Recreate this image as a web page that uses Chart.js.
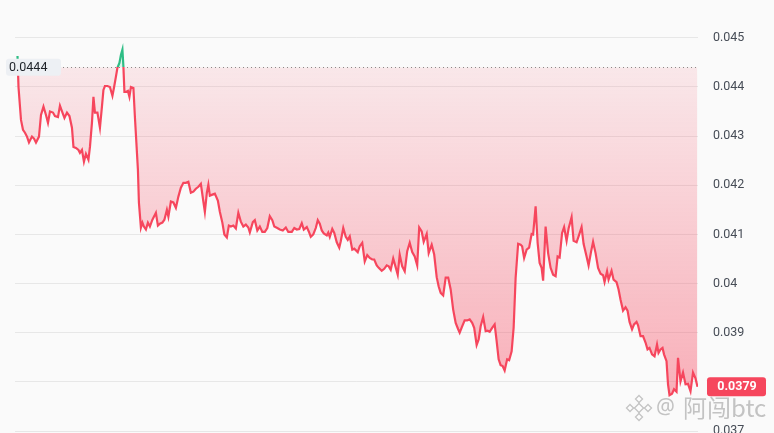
<!DOCTYPE html>
<html>
<head>
<meta charset="utf-8">
<script src="https://cdn.jsdelivr.net/npm/chart.js@4"></script>
<style>
  html, body { margin: 0; padding: 0; background: #fafafa; overflow: hidden; }
  #wrap { width: 774px; height: 433px; }
</style>
</head>
<body>
<div id="wrap"><canvas id="price-chart" width="774" height="433"></canvas></div>
<script>
// minutes since the start of the window, and the price at each sample
const minutes = [
  0, 2, 7, 11, 15, 19, 23, 29, 33, 37, 43, 47, 52, 57, 61, 65, 71, 75, 81, 85,
  90, 94, 99, 104, 109, 112, 117, 122, 125, 129, 133, 137, 142, 145, 149, 152, 155, 160, 165, 169,
  172, 175, 180, 185, 190, 193, 197, 200, 204, 207, 210, 212, 214, 217, 221, 224, 227, 232, 235,
  241, 243, 247, 250, 253, 257, 261, 265, 270, 277, 281, 285, 290, 294, 299, 302, 307, 312, 317, 322,
  327, 332, 337, 342, 347, 352, 357, 362, 367, 372, 375, 379, 382, 385, 390, 395, 401, 405, 410, 414,
  419, 423, 427, 432, 437, 442, 447, 452, 457, 462,
  465, 471, 475, 480, 485, 490, 495, 500, 505, 510, 514, 520, 525, 531, 537, 542, 549, 554, 559, 564,
  569, 573, 579, 583, 587, 592, 597, 601, 605, 609, 613, 619, 622, 625, 630, 634, 639, 644, 647, 652,
  657, 661, 665, 670, 674, 679,
  681, 685, 690, 695, 700, 705, 710, 714, 719, 723, 729, 734, 739, 743, 747, 752, 757, 761, 765, 770,
  775, 780, 785, 790, 795, 800, 804, 809, 813, 819, 823, 829, 834, 839, 843, 847, 852, 857, 862, 867,
  872, 877, 882, 885, 890, 895, 900, 905, 910, 914,
  919, 923, 927, 932, 937, 941, 945, 950, 955, 959, 963, 967, 971, 975, 980, 984, 989, 993, 997, 1002,
  1007, 1010, 1014, 1019, 1024, 1029, 1032, 1037, 1041, 1045, 1049, 1052, 1057, 1062, 1067, 1072, 1077, 1081, 1085, 1090,
  1094, 1099, 1103, 1109, 1113, 1119, 1123, 1129, 1133,
  1139, 1143, 1148, 1152, 1157, 1162, 1167, 1172, 1175, 1180, 1183, 1189, 1193, 1199, 1203, 1207, 1212, 1217, 1221, 1225,
  1230, 1234, 1239, 1242, 1247, 1252, 1257, 1261, 1265, 1270, 1275, 1280, 1283, 1287, 1291, 1294, 1299, 1302, 1305, 1310,
  1314, 1319, 1322, 1327, 1332, 1337, 1342, 1347, 1352, 1357, 1361
];
const prices = [
  0.04463, 0.04400, 0.04333, 0.04313, 0.04307, 0.04299, 0.04287, 0.04299, 0.04295, 0.04287,
  0.04299, 0.04343, 0.04360, 0.04343, 0.04327, 0.04350, 0.04348, 0.04341, 0.04339, 0.04362,
  0.04348, 0.04337, 0.04348, 0.04341, 0.04317, 0.04278, 0.04276, 0.04272, 0.04266, 0.04272,
  0.04248, 0.04264, 0.04252, 0.04278, 0.04327, 0.04380, 0.04348, 0.04348, 0.04317, 0.04360,
  0.04394, 0.04402, 0.04402, 0.04400, 0.04382, 0.04398, 0.04421, 0.04439, 0.04449, 0.04465,
  0.04476, 0.04441, 0.04390, 0.04390, 0.04392, 0.04380, 0.04400, 0.04398, 0.04339,
  0.04232, 0.04165, 0.04114, 0.04124, 0.04116, 0.04110, 0.04124, 0.04116, 0.04130, 0.04144,
  0.04118, 0.04122, 0.04124, 0.04130, 0.04150, 0.04136, 0.04167, 0.04165, 0.04154, 0.04177,
  0.04195, 0.04205, 0.04205, 0.04207, 0.04185, 0.04187, 0.04193, 0.04197, 0.04203, 0.04167,
  0.04146, 0.04185, 0.04201, 0.04179, 0.04181, 0.04183, 0.04169, 0.04146, 0.04124, 0.04100,
  0.04094, 0.04118, 0.04116, 0.04118, 0.04112, 0.04144, 0.04126, 0.04116, 0.04120, 0.04114,
  0.04104, 0.04125, 0.04129, 0.04108, 0.04116, 0.04105, 0.04105, 0.04113, 0.04137, 0.04129,
  0.04116, 0.04113, 0.04110, 0.04108, 0.04114, 0.04105, 0.04105, 0.04113, 0.04110, 0.04111,
  0.04123, 0.04110, 0.04115, 0.04106, 0.04095, 0.04100, 0.04113, 0.04129, 0.04122, 0.04108,
  0.04102, 0.04098, 0.04104, 0.04095, 0.04111, 0.04103, 0.04084, 0.04073, 0.04086, 0.04113,
  0.04095, 0.04089, 0.04096, 0.04069, 0.04071, 0.04066,
  0.04064, 0.04076, 0.04083, 0.04045, 0.04058, 0.04052, 0.04049, 0.04049, 0.04037, 0.04032,
  0.04026, 0.04030, 0.04037, 0.04035, 0.04028, 0.04051, 0.04033, 0.04018, 0.04059, 0.04035,
  0.04025, 0.04066, 0.04083, 0.04064, 0.04055, 0.04037, 0.04114, 0.04106, 0.04085, 0.04101,
  0.04062, 0.04079, 0.04059, 0.04013, 0.03994, 0.03981, 0.03976, 0.04012, 0.04012, 0.03988,
  0.03947, 0.03920, 0.03907, 0.03900, 0.03913, 0.03925, 0.03925, 0.03927, 0.03920, 0.03910,
  0.03875, 0.03886, 0.03913, 0.03932, 0.03903, 0.03904, 0.03902, 0.03910, 0.03917, 0.03883,
  0.03846, 0.03834, 0.03832, 0.03823, 0.03846, 0.03844, 0.03862, 0.03910, 0.04012, 0.04081,
  0.04079, 0.04076, 0.04052, 0.04069, 0.04073, 0.04101, 0.04100, 0.04157, 0.04083, 0.04042,
  0.04032, 0.04006, 0.04116, 0.04062, 0.04032, 0.04018, 0.04015, 0.04055, 0.04053, 0.04103,
  0.04115, 0.04087, 0.04112, 0.04135, 0.04087, 0.04084, 0.04096, 0.04115, 0.04081,
  0.04055, 0.04037, 0.04065, 0.04085, 0.04062, 0.04032, 0.04020, 0.04017, 0.04003, 0.04025,
  0.04008, 0.04026, 0.04008, 0.04003, 0.03988, 0.03967, 0.03945, 0.03952, 0.03945, 0.03922,
  0.03907, 0.03917, 0.03922, 0.03915, 0.03893, 0.03893, 0.03880, 0.03866, 0.03869, 0.03856,
  0.03852, 0.03876, 0.03859, 0.03866, 0.03869, 0.03856, 0.03842, 0.03795, 0.03773, 0.03776,
  0.03785, 0.03780, 0.03849, 0.03801, 0.03819, 0.03795, 0.03796, 0.03781, 0.03819, 0.03807,
  0.03790
];
const yTicks = [0.037, 0.038, 0.039, 0.04, 0.041, 0.042, 0.043, 0.044, 0.045];
const baseline = 0.0444;
const baseLabel = '0.0444';
const lastLabel = '0.0379';
const watermark = '阿闯btc';

const RED = '#f6465d';
const GREEN = '#2ebd85';
const lastPrice = prices[prices.length - 1];

function baseRatio(chart) {
  const { chartArea, scales } = chart;
  const y = scales.y.getPixelForValue(baseline);
  return Math.min(1, Math.max(0, (y - chartArea.top) / (chartArea.bottom - chartArea.top)));
}

function lineColor(context) {
  const chart = context.chart;
  if (!chart.chartArea) return RED;
  const { ctx, chartArea } = chart;
  const r = baseRatio(chart);
  const g = ctx.createLinearGradient(0, chartArea.top, 0, chartArea.bottom);
  g.addColorStop(0, GREEN);
  g.addColorStop(r, GREEN);
  g.addColorStop(r, RED);
  g.addColorStop(1, RED);
  return g;
}

function fillColor(context) {
  const chart = context.chart;
  if (!chart.chartArea) return 'rgba(246,70,93,0.15)';
  const { ctx, chartArea, scales } = chart;
  const y0 = scales.y.getPixelForValue(baseline);
  const g = ctx.createLinearGradient(0, y0, 0, chartArea.bottom);
  g.addColorStop(0, 'rgba(246,70,93,0.1)');
  g.addColorStop(1, 'rgba(246,70,93,0.45)');
  return g;
}

const overlay = {
  id: 'overlay',
  beforeDatasetsDraw(chart) {
    const { ctx, chartArea, scales } = chart;
    const y = Math.round(scales.y.getPixelForValue(baseline)) + 0.5;
    ctx.save();
    ctx.strokeStyle = '#8a8a8a';
    ctx.lineWidth = 1;
    ctx.setLineDash([1, 3]);
    ctx.beginPath();
    ctx.moveTo(chartArea.left, y);
    ctx.lineTo(chartArea.right, y);
    ctx.stroke();
    ctx.restore();
  },
  afterDraw(chart) {
    const { ctx, scales } = chart;
    ctx.save();
    ctx.font = '12.5px Roboto, "Noto Sans", sans-serif';
    ctx.textBaseline = 'middle';

    // base price tag at the left
    const yb = scales.y.getPixelForValue(baseline);
    ctx.fillStyle = '#edf0f4';
    ctx.beginPath();
    ctx.roundRect(6, yb - 8.5, 55, 17, 3);
    ctx.fill();
    ctx.fillStyle = '#1e2329';
    ctx.textAlign = 'left';
    ctx.fillText(baseLabel, 9, yb + 0.5);

    // last price tag at the right
    const yl = scales.y.getPixelForValue(lastPrice);
    ctx.fillStyle = RED;
    ctx.beginPath();
    ctx.roundRect(707, yl - 9.5, 59, 19, 3);
    ctx.fill();
    ctx.fillStyle = '#ffffff';
    ctx.font = 'bold 12.5px Roboto, "Noto Sans", sans-serif';
    ctx.textAlign = 'center';
    ctx.fillText(lastLabel, 737, yl + 0.5);

    // watermark
    const wy = 408;
    ctx.strokeStyle = 'rgba(150,150,150,0.55)';
    ctx.fillStyle = 'rgba(255,255,255,0.6)';
    ctx.lineWidth = 1.3;
    const cx = 639;
    const d = (x, y, s) => {
      ctx.beginPath();
      ctx.moveTo(x, y - s);
      ctx.lineTo(x + s, y);
      ctx.lineTo(x, y + s);
      ctx.lineTo(x - s, y);
      ctx.closePath();
      ctx.fill();
      ctx.stroke();
    };
    d(cx, wy, 4.5);
    d(cx, wy - 9, 3.5);
    d(cx, wy + 9, 3.5);
    d(cx - 9, wy, 3.5);
    d(cx + 9, wy, 3.5);
    ctx.fillStyle = 'rgba(140,140,140,0.5)';
    ctx.font = '21px "Noto Sans", sans-serif';
    ctx.textAlign = 'left';
    ctx.fillText('@', 656, wy);
    ctx.font = '24px "Noto Sans CJK SC", sans-serif';
    ctx.fillText(watermark, 683, wy);
    ctx.restore();
  }
};

new Chart(document.getElementById('price-chart'), {
  type: 'line',
  data: {
    datasets: [{
      data: minutes.map((m, i) => ({ x: m, y: prices[i] })),
      borderColor: lineColor,
      backgroundColor: fillColor,
      borderWidth: 2.2,
      pointRadius: 0,
      tension: 0,
      fill: { target: { value: baseline }, above: 'rgba(46,189,133,0.12)' },
    }],
  },
  options: {
    responsive: false,
    animation: false,
    layout: { padding: { left: 15, right: 0, top: 0, bottom: 2 } },
    plugins: { legend: { display: false }, tooltip: { enabled: false } },
    scales: {
      x: { type: 'linear', min: -5, max: 1362, display: false },
      y: {
        position: 'right',
        min: 0.037,
        max: 0.04577,
        afterBuildTicks(scale) {
          scale.ticks = yTicks.map(v => ({ value: v }));
        },
        afterFit(scale) {
          scale.width = 76;
          scale.paddingTop = 0;
          scale.paddingBottom = 0;
        },
        grid: { color: 'rgba(0,0,0,0.075)', drawTicks: false },
        border: { display: false },
        ticks: {
          padding: 15,
          color: '#474d57',
          font: { family: 'Roboto, "Noto Sans", sans-serif', size: 12.5 },
          // the tick hidden under the last-price tag is left blank
          callback: v => (Math.abs(v - lastPrice) < 0.0003 ? '' : String(+v.toFixed(3))),
        },
      },
    },
  },
  plugins: [overlay],
});
</script>
</body>
</html>
